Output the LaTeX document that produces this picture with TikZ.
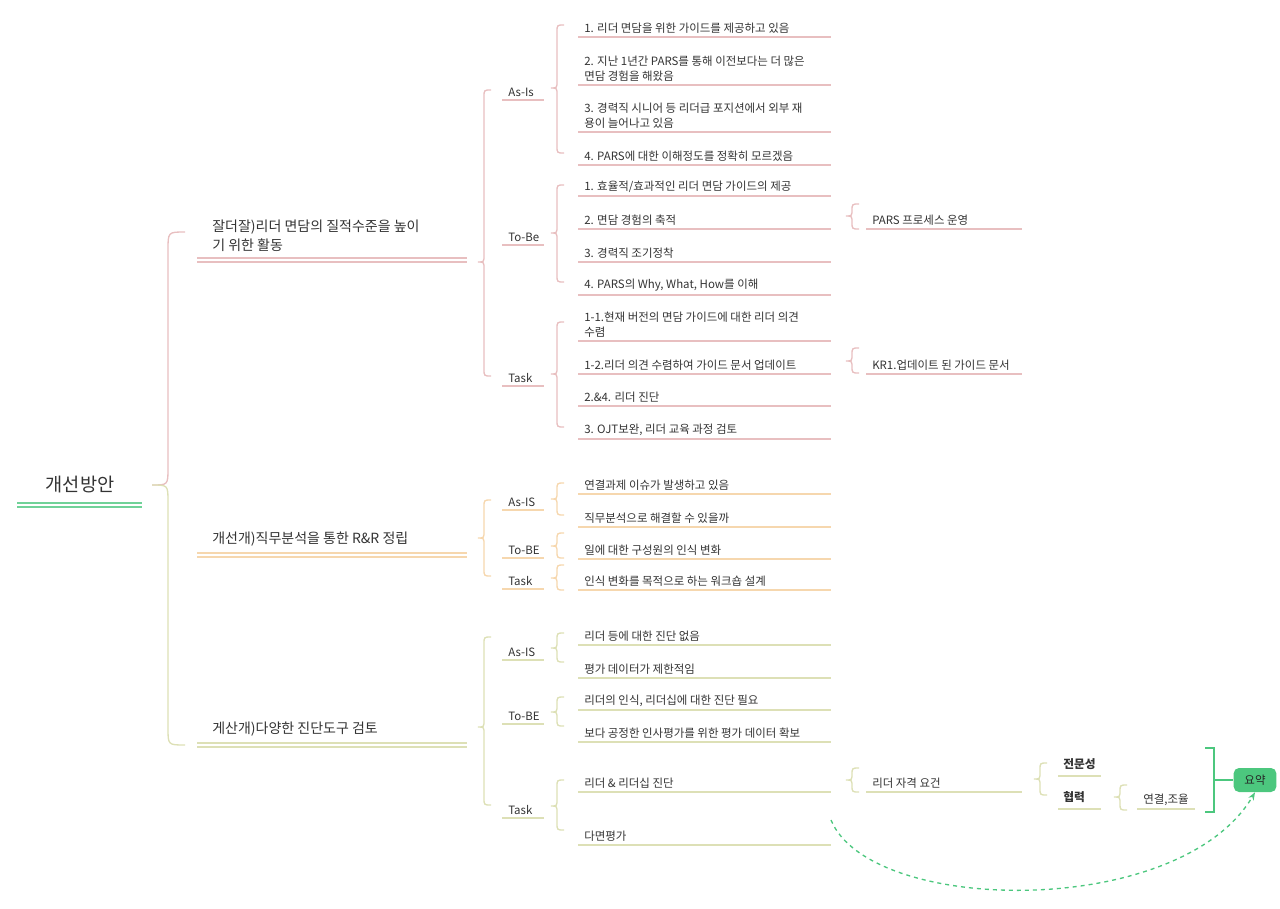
\documentclass[tikz,border=0pt]{standalone}
\usepackage{fontspec}
\setmainfont{Noto Sans CJK KR}
\usetikzlibrary{arrows.meta}
\definecolor{pk}{HTML}{E8BFC0}
\definecolor{og}{HTML}{F6D7AE}
\definecolor{ol}{HTML}{DDE0B6}
\definecolor{gr}{HTML}{4CC77E}
\definecolor{tx}{HTML}{333333}
\tikzset{txt/.style={inner xsep=0pt,inner ysep=2.5pt,text=tx,font=\fontsize{8.6}{11}\selectfont,align=left},
 ul/.style={line width=1.3pt}, br/.style={line width=1pt}}
\newcommand\lf[6]{\node[txt,anchor=south west] (#1) at ({#2+6},#3) {#5};
 \draw[ul,#6] (#2,#3) -- (#4,#3);}
\newcommand\crl[5]{\draw[br,#5] ({#1+7},#2) .. controls (#1,#2) .. (#1,{#2+7}) -- (#1,{#4-7}) .. controls (#1,#4) .. ({#1-6},#4) .. controls (#1,#4) .. (#1,{#4+7}) -- (#1,{#3-7}) .. controls (#1,#3) .. ({#1+7},#3);}
\begin{document}
\begin{tikzpicture}[x=0.75pt,y=-0.75pt]
\useasboundingbox (0,0) rectangle (1280,909);
% root
\node[txt,font=\fontsize{14}{16}\selectfont,anchor=south] (root) at (80,497) {개선방안};
\draw[gr!80,line width=1.3pt] (17,503)--(142,503) (17,507)--(142,507);
% main brace
\draw[br,pk] (185,232) .. controls (168,232) .. (168,250) -- (168,468) .. controls (168,485) .. (152,485);
\draw[br,ol] (152,485) .. controls (168,485) .. (168,502) -- (168,728) .. controls (168,745) .. (185,745);
% branches
\node[txt,font=\fontsize{10.5}{14}\selectfont,anchor=south west] (b1) at (212,255) {잘더잘)리더 면담의 질적수준을 높이\\기 위한 활동};
\draw[ul,pk] (197,258)--(467,258) (197,262)--(467,262);
\node[txt,font=\fontsize{10.5}{14}\selectfont,anchor=south west] (b2) at (212,550) {개선개)직무분석을 통한 R\&R 정립};
\draw[ul,og] (197,553)--(467,553) (197,557)--(467,557);
\node[txt,font=\fontsize{10.5}{14}\selectfont,anchor=south west] (b3) at (212,740) {게산개)다양한 진단도구 검토};
\draw[ul,ol] (197,743)--(467,743) (197,747)--(467,747);
% branch 1
\crl{484}{90}{376}{262}{pk}
\lf{a1}{502}{100}{544}{As-Is}{pk}
\lf{t1}{502}{245}{544}{To-Be}{pk}
\lf{k1}{502}{386}{544}{Task}{pk}
\crl{557}{25}{153}{88}{pk}
\lf{a11}{578}{37}{831}{1. 리더 면담을 위한 가이드를 제공하고 있음}{pk}
\lf{a12}{578}{85}{831}{2. 지난 1년간 PARS를 통해 이전보다는 더 많은\\면담 경험을 해왔음}{pk}
\lf{a13}{578}{132}{831}{3. 경력직 시니어 등 리더급 포지션에서 외부 재\\용이 늘어나고 있음}{pk}
\lf{a14}{578}{165}{831}{4. PARS에 대한 이해정도를 정확히 모르겠음}{pk}
\crl{557}{185}{282}{233}{pk}
\lf{t11}{578}{196}{831}{1. 효율적/효과적인 리더 면담 가이드의 제공}{pk}
\lf{t12}{578}{229}{831}{2. 면담 경험의 축적}{pk}
\lf{t13}{578}{262}{831}{3.  경력직  조기정착}{pk}
\lf{t14}{578}{295}{831}{4. PARS의 Why, What, How를 이해}{pk}
\crl{852}{204}{229}{216}{pk}
\lf{p1}{866}{229}{1022}{PARS 프로세스 운영}{pk}
\crl{557}{322}{427}{374}{pk}
\lf{k11}{578}{341}{831}{1-1.현재 버전의 면담 가이드에 대한 리더 의견\\수렴}{pk}
\lf{k12}{578}{374}{831}{1-2.리더 의견 수렴하여 가이드 문서 업데이트}{pk}
\lf{k13}{578}{406}{831}{2.\&4. 리더 진단}{pk}
\lf{k14}{578}{439}{831}{3. OJT보완, 리더 교육 과정 검토}{pk}
\crl{852}{348}{373}{361}{pk}
\lf{kr}{866}{374}{1022}{KR1.업데이트 된 가이드 문서}{pk}
% branch 2
\crl{484}{500}{576}{538}{og}
\lf{a2}{502}{510}{544}{As-IS}{og}
\lf{t2}{502}{558}{544}{To-BE}{og}
\lf{k2}{502}{589}{544}{Task}{og}
\crl{557}{483}{515}{499}{og}
\lf{a21}{578}{494}{831}{연결과제 이슈가 발생하고 있음}{og}
\lf{a22}{578}{527}{831}{직무분석으로 해결할 수 있을까}{og}
\crl{557}{533}{558}{546}{og}
\lf{t21}{578}{559}{831}{일에 대한 구성원의 인식 변화}{og}
\crl{557}{565}{590}{578}{og}
\lf{k21}{578}{590}{831}{인식 변화를 목적으로 하는 워크숍 설계}{og}
% branch 3
\crl{484}{637}{805}{727}{ol}
\lf{a3}{502}{660}{544}{As-IS}{ol}
\lf{t3}{502}{724}{544}{To-BE}{ol}
\lf{k3}{502}{818}{544}{Task}{ol}
\crl{557}{633}{662}{648}{ol}
\lf{a31}{578}{645}{831}{리더 등에 대한 진단 없음}{ol}
\lf{a32}{578}{678}{831}{평가 데이터가 제한적임}{ol}
\crl{557}{697}{726}{712}{ol}
\lf{t31}{578}{710}{831}{리더의 인식, 리더십에 대한 진단 필요}{ol}
\lf{t32}{578}{742}{831}{보다 공정한 인사평가를 위한 평가 데이터 확보}{ol}
\crl{557}{780}{830}{806}{ol}
\lf{k31}{578}{792}{831}{리더 \& 리더십 진단}{ol}
\lf{k32}{578}{845}{831}{다면평가}{ol}
\crl{852}{768}{792}{780}{ol}
\lf{q1}{866}{792}{1022}{리더 자격 요건}{ol}
\crl{1040}{763}{795}{779}{ol}
\node[txt,anchor=south west,font=\fontsize{8.8}{11}\selectfont\bfseries] (q11) at (1063,773) {전문성};
\draw[ul,ol] (1058,776)--(1101,776);
\node[txt,anchor=south west,font=\fontsize{8.8}{11}\selectfont\bfseries] (q12) at (1063,806) {협력};
\draw[ul,ol] (1058,809)--(1101,809);
\crl{1120}{785}{810}{797}{ol}
\lf{q2}{1137}{809}{1195}{연결,조율}{ol}
% summary
\node[fill=gr,rounded corners=4pt,minimum width=32pt,minimum height=18pt,text=black!85,font=\fontsize{8.6}{11}\selectfont] (sum) at (1255,780) {요약};
\coordinate (s0) at (1214,780);
\draw[gr,line width=1.2pt] (1205,748)--(1214,748)--(1214,812)--(1205,812);
\draw[gr,line width=1.2pt] (s0)--(sum.west);
\coordinate (d0) at (831,820);
\draw[gr,dashed,line width=1pt,-{Stealth[length=6pt]}] (d0) .. controls (870,915) and (1180,920) .. (sum.south);
\end{tikzpicture}
\end{document}
